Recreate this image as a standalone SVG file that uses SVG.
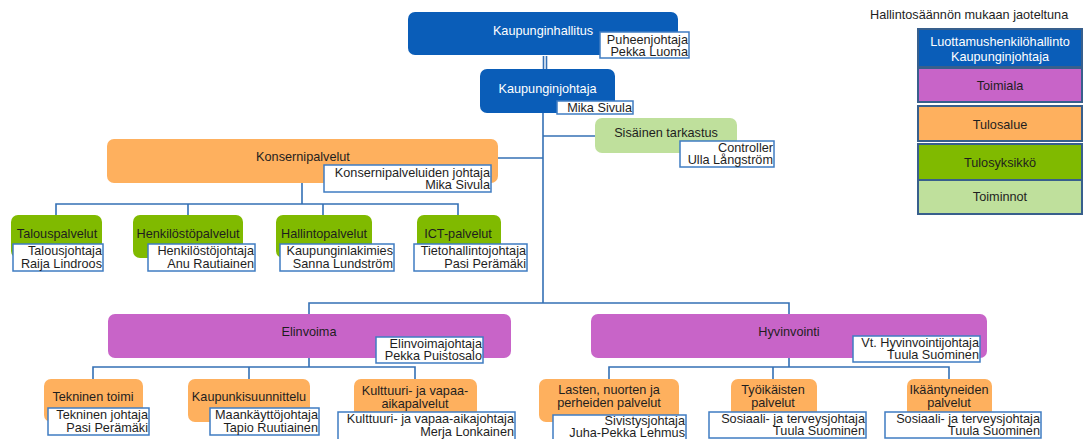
<svg xmlns="http://www.w3.org/2000/svg" width="1083" height="439" viewBox="0 0 1083 439">
<style>
text{font-family:"Liberation Sans",Arial,sans-serif;font-size:12.7px;fill:#1e1e1e}
.c{text-anchor:middle}
.r{text-anchor:end}
.w{fill:#ffffff}
.blue{fill:#0a5db8}
.purple{fill:#c864c8}
.orange{fill:#feb05e}
.green{fill:#80ba00}
.lgreen{fill:#bfe09c}
.sub{fill:#ffffff;stroke:#3f7cc2;stroke-width:1.5}
.leg{stroke:#385f8c;stroke-width:2}
.conn{fill:none;stroke:#3470b5;stroke-width:1.6}
</style>
<g id="connectors">
<path class="conn" d="M543.5 56V69M546.5 56V69"/>
<path class="conn" d="M543 113V303"/>
<path class="conn" d="M543 136H595"/>
<path class="conn" d="M498 158H543"/>
<path class="conn" d="M302 183V204M56 215V204H458V215M188 204V215M323 204V215"/>
<path class="conn" d="M309 314V303H789V314"/>
<path class="conn" d="M309 358V367M93 379V367H415V379M249 367V379"/>
<path class="conn" d="M789 358V367M609 379V367H949V379M773 367V379"/>
</g>
<g id="kaupunginhallitus">
<rect class="blue" x="408" y="12" width="270" height="43" rx="7"/>
<text class="c w" x="543" y="35">Kaupunginhallitus</text>
<rect class="sub" x="600" y="32" width="89" height="26"/>
<text class="r" x="688" y="44">Puheenjohtaja</text>
<text class="r" x="688" y="56">Pekka Luoma</text>
</g>
<g id="kaupunginjohtaja">
<rect class="blue" x="480" y="69" width="135" height="44" rx="7"/>
<text class="c w" x="547.5" y="93">Kaupunginjohtaja</text>
<rect class="sub" x="557" y="101" width="76" height="13"/>
<text class="r" x="632" y="112">Mika Sivula</text>
</g>
<g id="sisainen">
<rect class="lgreen" x="595" y="118" width="142" height="35" rx="7"/>
<text class="c" x="666" y="137">Sisäinen tarkastus</text>
<rect class="sub" x="680" y="141" width="94" height="26"/>
<text class="r" x="773" y="152">Controller</text>
<text class="r" x="773" y="164">Ulla Långström</text>
</g>
<g id="konsernipalvelut">
<rect class="orange" x="107" y="139" width="391" height="44" rx="7"/>
<text class="c" x="303" y="161">Konsernipalvelut</text>
<rect class="sub" x="324" y="165" width="167" height="27"/>
<text class="r" x="490" y="177">Konsernipalveluiden johtaja</text>
<text class="r" x="490" y="189">Mika Sivula</text>
</g>
<g id="talouspalvelut">
<rect class="green" x="11" y="215" width="91" height="43" rx="7"/>
<text class="c" x="57" y="238">Talouspalvelut</text>
<rect class="sub" x="13" y="244" width="90" height="27"/>
<text class="r" x="102" y="255">Talousjohtaja</text>
<text class="r" x="102" y="268">Raija Lindroos</text>
</g>
<g id="henkilostopalvelut">
<rect class="green" x="133" y="215" width="110" height="43" rx="7"/>
<text class="c" x="188" y="238">Henkilöstöpalvelut</text>
<rect class="sub" x="148" y="244" width="107" height="27"/>
<text class="r" x="254" y="255">Henkilöstöjohtaja</text>
<text class="r" x="254" y="268">Anu Rautiainen</text>
</g>
<g id="hallintopalvelut">
<rect class="green" x="276" y="215" width="96" height="43" rx="7"/>
<text class="c" x="324" y="238">Hallintopalvelut</text>
<rect class="sub" x="280" y="244" width="114" height="27"/>
<text class="r" x="393" y="255">Kaupunginlakimies</text>
<text class="r" x="393" y="268">Sanna Lundström</text>
</g>
<g id="ictpalvelut">
<rect class="green" x="417" y="215" width="84" height="43" rx="7"/>
<text class="c" x="458" y="238">ICT-palvelut</text>
<rect class="sub" x="414" y="244" width="113" height="27"/>
<text class="r" x="526" y="255">Tietohallintojohtaja</text>
<text class="r" x="526" y="268">Pasi Perämäki</text>
</g>
<g id="elinvoima">
<rect class="purple" x="108" y="314" width="403" height="44" rx="7"/>
<text class="c" x="309" y="336">Elinvoima</text>
<rect class="sub" x="376" y="337" width="107" height="26"/>
<text class="r" x="482" y="348">Elinvoimajohtaja</text>
<text class="r" x="482" y="360">Pekka Puistosalo</text>
</g>
<g id="hyvinvointi">
<rect class="purple" x="591" y="314" width="396" height="44" rx="7"/>
<text class="c" x="789" y="336">Hyvinvointi</text>
<rect class="sub" x="853" y="336" width="127" height="26"/>
<text class="r" x="979" y="347">Vt. Hyvinvointijohtaja</text>
<text class="r" x="979" y="359">Tuula Suominen</text>
</g>
<g id="tekninen">
<rect class="orange" x="44" y="379" width="99" height="43" rx="7"/>
<text class="c" x="93" y="401">Tekninen toimi</text>
<rect class="sub" x="48" y="408" width="101" height="27"/>
<text class="r" x="148" y="419">Tekninen johtaja</text>
<text class="r" x="148" y="432">Pasi Perämäki</text>
</g>
<g id="kaupunkisuunnittelu">
<rect class="orange" x="188" y="379" width="122" height="43" rx="7"/>
<text class="c" x="249" y="401">Kaupunkisuunnittelu</text>
<rect class="sub" x="210" y="408" width="109" height="27"/>
<text class="r" x="318" y="419">Maankäyttöjohtaja</text>
<text class="r" x="318" y="432">Tapio Ruutiainen</text>
</g>
<g id="kulttuuri">
<rect class="orange" x="354" y="379" width="123" height="43" rx="7"/>
<text class="c" x="415" y="395">Kulttuuri- ja vapaa-</text>
<text class="c" x="415" y="408">aikapalvelut</text>
<rect class="sub" x="338" y="412" width="177" height="28"/>
<text class="r" x="514" y="423">Kulttuuri- ja vapaa-aikajohtaja</text>
<text class="r" x="514" y="436">Merja Lonkainen</text>
</g>
<g id="lasten">
<rect class="orange" x="539" y="379" width="140" height="43" rx="7"/>
<text class="c" x="609" y="394">Lasten, nuorten ja</text>
<text class="c" x="609" y="407">perheiden palvelut</text>
<rect class="sub" x="553" y="415" width="133" height="26"/>
<text class="r" x="685" y="425">Sivistysjohtaja</text>
<text class="r" x="685" y="437">Juha-Pekka Lehmus</text>
</g>
<g id="tyoikaisten">
<rect class="orange" x="731" y="379" width="86" height="43" rx="7"/>
<text class="c" x="773" y="394">Työikäisten</text>
<text class="c" x="773" y="407">palvelut</text>
<rect class="sub" x="709" y="412" width="157" height="26"/>
<text class="r" x="865" y="423">Sosiaali- ja terveysjohtaja</text>
<text class="r" x="865" y="435">Tuula Suominen</text>
</g>
<g id="ikaantyneiden">
<rect class="orange" x="907" y="379" width="85" height="43" rx="7"/>
<text class="c" x="949" y="394">Ikääntyneiden</text>
<text class="c" x="949" y="407">palvelut</text>
<rect class="sub" x="885" y="412" width="156" height="26"/>
<text class="r" x="1040" y="423">Sosiaali- ja terveysjohtaja</text>
<text class="r" x="1040" y="435">Tuula Suominen</text>
</g>
<g id="legend">
<text x="870" y="19">Hallintosäännön mukaan jaoteltuna</text>
<rect class="blue leg" x="918" y="29" width="164" height="38"/>
<text class="c w" x="1000" y="46">Luottamushenkilöhallinto</text>
<text class="c w" x="1000" y="61">Kaupunginjohtaja</text>
<rect class="purple leg" x="918" y="68" width="164" height="34"/>
<text class="c" x="1000" y="90">Toimiala</text>
<rect class="orange leg" x="918" y="106" width="164" height="35"/>
<text class="c" x="1000" y="129">Tulosalue</text>
<rect class="green leg" x="918" y="144" width="164" height="36"/>
<text class="c" x="1000" y="167">Tulosyksikkö</text>
<rect class="lgreen leg" x="918" y="180" width="164" height="34"/>
<text class="c" x="1000" y="201">Toiminnot</text>
</g>
</svg>
